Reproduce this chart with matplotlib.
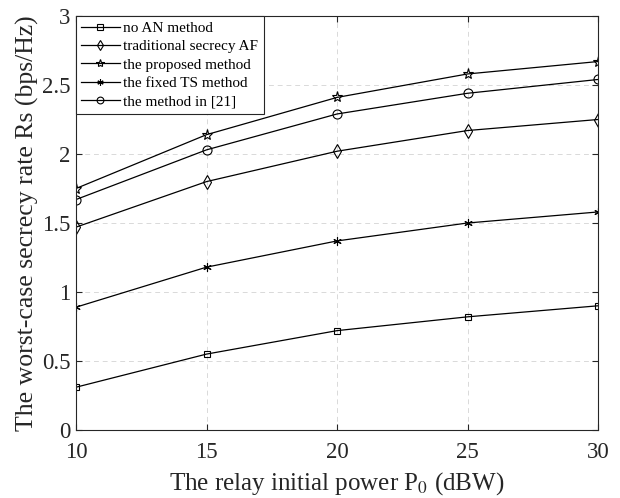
import matplotlib
matplotlib.use("Agg")
import matplotlib.pyplot as plt

# ── Datos ────────────────────────────────────────────────────
potencia = [10, 15, 20, 25, 30]
sin_an = [0.31, 0.55, 0.72, 0.82, 0.90]
af_tradicional = [1.47, 1.80, 2.02, 2.17, 2.25]
propuesto = [1.75, 2.14, 2.41, 2.58, 2.67]
ts_fijo = [0.89, 1.18, 1.37, 1.50, 1.58]
metodo_21 = [1.67, 2.03, 2.29, 2.44, 2.54]

plt.rcParams["font.family"] = ["Liberation Serif", "DejaVu Serif"]
plt.rcParams["mathtext.fontset"] = "stix"

fig = plt.figure(figsize=(6.2, 4.98), dpi=100)
ax = fig.add_axes([76 / 620, 1 - 430 / 498, 522 / 620, 414 / 498])

estilo = dict(color="black", lw=0.9, mfc="none", mec="black", mew=0.8)
ax.plot(potencia, sin_an, marker="s", ms=5, label="no AN method", **estilo)
ax.plot(potencia, af_tradicional, marker="d", ms=7, label="traditional secrecy AF", **estilo)
ax.plot(potencia, propuesto, marker="*", ms=8, label="the proposed method", **estilo)
ax.plot(potencia, ts_fijo, marker=(6, 2, 0), ms=6, label="the fixed TS method", **estilo)
ax.plot(potencia, metodo_21, marker="o", ms=6.5, label="the method in [21]", **estilo)

ax.set_xlim(10, 30)
ax.set_ylim(0, 3)
ax.set_xticks([10, 15, 20, 25, 30])
ax.set_yticks([0, 0.5, 1, 1.5, 2, 2.5, 3])
ax.set_yticklabels(["0", "0.5", "1", "1.5", "2", "2.5", "3"])
ax.tick_params(direction="in", labelsize=16.5, length=4, top=True, right=True, colors="#262626")
ax.tick_params(axis="x", pad=9)
ax.tick_params(axis="y", pad=4)
ax.grid(True, ls=(0, (5, 4)), color="#d9d9d9", lw=0.7)
for s in ax.spines.values():
    s.set_color("#262626")
    s.set_linewidth(0.8)

ax.set_xlabel(r"The relay initial power P$_0$ (dBW)", fontsize=18, color="#262626", labelpad=5)
ax.set_ylabel("The worst-case secrecy rate Rs (bps/Hz)", fontsize=18.5, color="#262626", labelpad=2)

leg = ax.legend(loc="upper left", fontsize=11, fancybox=False, framealpha=1,
                edgecolor="#262626", borderaxespad=0, handlelength=2.5,
                handletextpad=0.25, borderpad=0.35, labelspacing=0.3,
                markerscale=0.75)
leg.get_frame().set_linewidth(0.8)

fig.savefig("out.png", dpi=100)
